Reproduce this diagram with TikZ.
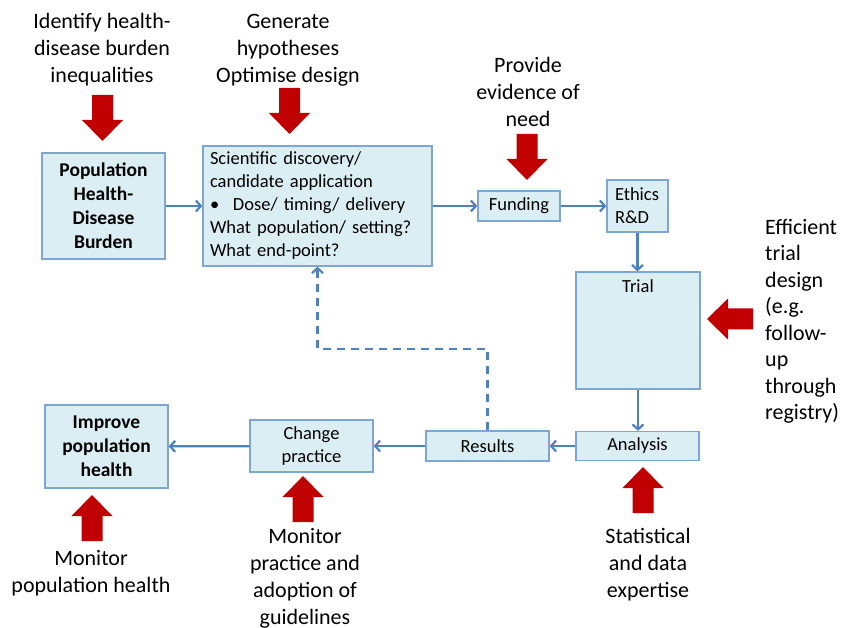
\documentclass[tikz,border=0pt]{standalone}
\usepackage{fontspec}
\setmainfont{Carlito}
\usetikzlibrary{arrows.meta}

\definecolor{boxfill}{HTML}{DBEEF4}
\definecolor{boxline}{HTML}{7EA6D2}
\definecolor{flowblue}{HTML}{4F81BD}
\definecolor{darkred}{HTML}{C00000}

% red block arrow: tail centre x, y, direction
\newcommand{\redblock}[3]{%
  \fill[darkred, shift={(#1,#2)}, rotate=#3] (0,-10.5) -- (25,-10.5) -- (25,-20.5) -- (46,0) -- (25,20.5) -- (25,10.5) -- (0,10.5) -- cycle;}

\begin{document}
\begin{tikzpicture}[x=1pt, y=-1pt,
  box/.style={draw=boxline, fill=boxfill, line width=1.3pt, inner sep=0pt, align=center, font=\fontsize{18.5}{23}\selectfont},
  boldbox/.style={box, font=\fontsize{19.5}{24}\selectfont\bfseries},
  flow/.style={flowblue, line width=2.2pt, -{Straight Barb[length=5pt,width=11pt]}},
  caption/.style={align=center, inner sep=0pt, font=\fontsize{22}{27}\selectfont}]
  \useasboundingbox (0,0) rectangle (841,628);

  % boxes
  \node[boldbox, minimum width=123pt, minimum height=106pt] (pop) at (103.5,206) {Population\\Health-\\Disease\\Burden};
  \node[box, minimum width=229pt, minimum height=120pt, text width=215pt, align=left, inner xsep=7pt] (sci) at (317.5,206) {Scientific discovery/\\candidate application\\\makebox[23pt][l]{\textbullet}Dose/ timing/ delivery\\What population/ setting?\\What end-point?};
  \node[box, minimum width=82pt, minimum height=30pt] (fund) at (519,206) {Funding};
  \node[box, minimum height=52pt, text width=45pt, align=left, inner xsep=8pt] (ethics) at (637.5,206) {Ethics\\R\&D};
  \node[box, minimum width=124pt, minimum height=117pt, label={[anchor=north, yshift=-5pt, font=\fontsize{18.5}{23}\selectfont]north:Trial}] (trial) at (638,330.5) {};
  \node[box, minimum width=123pt, minimum height=29pt] (analysis) at (637.5,446) {Analysis};
  \node[box, minimum width=123pt, minimum height=30pt] (results) at (487.5,446) {Results};
  \node[box, minimum width=123pt, minimum height=52pt] (change) at (311.5,446) {Change\\practice};
  \node[boldbox, minimum width=123pt, minimum height=83pt] (improve) at (106.5,446.5) {Improve\\population\\health};

  % flow
  \draw[flow] (pop) -- (sci);
  \draw[flow] (sci) -- (fund);
  \draw[flow] (fund) -- (ethics);
  \draw[flow] (ethics.south) -- (ethics.south |- trial.north);
  \draw[flow] (trial.south) -- (trial.south |- analysis.north);
  \draw[flow] (analysis) -- (results);
  \draw[flow] (results) -- (change);
  \draw[flow] (change) -- (improve);
  \coordinate (bend) at (400,349);
  \draw[flow, dash pattern=on 8pt off 6pt] (results.north) -- (results.north |- bend) -| (sci.south);

  % inputs
  \node[caption] (identify) at (102,50) {Identify health-\\disease burden\\inequalities};
  \node[caption] (generate) at (288,50) {Generate\\hypotheses\\Optimise design};
  \node[caption] (provide) at (528,91.5) {Provide\\evidence of\\need};
  \node[caption, align=left, anchor=west, font=\fontsize{22}{26.5}\selectfont] (efficient) at (765,321.5) {Efficient\\trial\\design\\(e.g.\\follow-\\up\\through\\registry)};
  \node[caption] (monpop) at (91,573.5) {Monitor\\population health};
  \node[caption] (monprac) at (305,578) {Monitor\\practice and\\adoption of\\guidelines};
  \node[caption] (stats) at (648,565) {Statistical\\and data\\expertise};

  \redblock{102.5}{95}{-90}
  \redblock{289.5}{88}{-90}
  \redblock{527}{134}{-90}
  \redblock{753}{319}{180}
  \redblock{92}{541}{90}
  \redblock{303}{522}{90}
  \redblock{643}{513}{90}
\end{tikzpicture}
\end{document}
